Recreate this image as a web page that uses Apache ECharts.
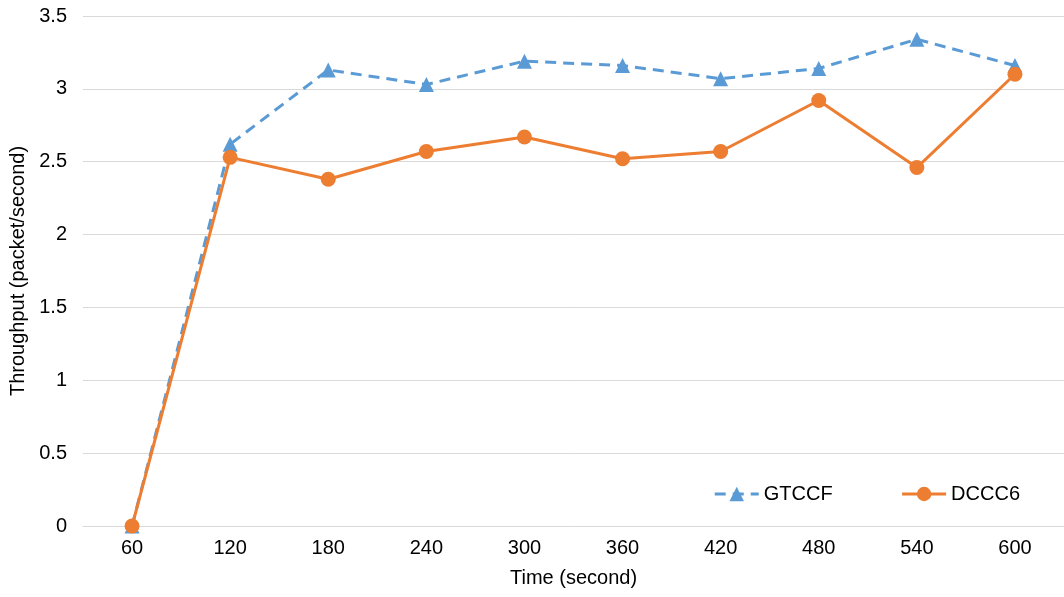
<!DOCTYPE html>
<html><head><meta charset="utf-8">
<script src="https://cdn.jsdelivr.net/npm/echarts@6/dist/echarts.min.js"></script>
<style>html,body{margin:0;padding:0;background:#fff}#c{width:1064px;height:597px}</style>
</head><body><div id="c"></div>
<script>
const categories = ['60','120','180','240','300','360','420','480','540','600'];
const gtccf = [0, 2.62, 3.13, 3.03, 3.19, 3.16, 3.07, 3.14, 3.34, 3.16];
const dccc6 = [0, 2.53, 2.38, 2.57, 2.67, 2.52, 2.57, 2.92, 2.46, 3.10];
const yTicks = {min: 0, max: 3.5, interval: 0.5};

const font = 'Liberation Sans, Arial, sans-serif';
const chart = echarts.init(document.getElementById('c'));
chart.setOption({
  animation: false,
  grid: {left: 83, right: 0, top: 16, bottom: 71},
  legend: {
    right: 39, top: 479, itemWidth: 44, itemHeight: 18, itemGap: 68,
    lineStyle: {width: 3},
    textStyle: {fontFamily: font, fontSize: 20, color: '#000'},
    data: ['GTCCF', 'DCCC6']
  },
  xAxis: {
    type: 'category', data: categories, boundaryGap: true,
    name: 'Time (second)', nameLocation: 'middle', nameGap: 42,
    nameTextStyle: {fontFamily: font, fontSize: 20, color: '#000'},
    axisLine: {show: true, lineStyle: {color: '#d9d9d9', width: 1}},
    axisTick: {show: false},
    axisLabel: {fontFamily: font, fontSize: 20, color: '#000', margin: 12}
  },
  yAxis: {
    type: 'value', min: yTicks.min, max: yTicks.max, interval: yTicks.interval,
    name: 'Throughput (packet/second)', nameLocation: 'middle', nameGap: 50,
    nameTextStyle: {fontFamily: font, fontSize: 20, color: '#000'},
    axisLine: {show: false}, axisTick: {show: false},
    axisLabel: {fontFamily: font, fontSize: 20, color: '#000', margin: 16},
    splitLine: {lineStyle: {color: '#d9d9d9', width: 1}}
  },
  series: [
    {
      name: 'GTCCF', type: 'line', data: gtccf,
      symbol: 'triangle', symbolSize: 15,
      lineStyle: {color: '#5b9bd5', width: 3, type: [11, 7]},
      itemStyle: {color: '#5b9bd5'}
    },
    {
      name: 'DCCC6', type: 'line', data: dccc6,
      symbol: 'circle', symbolSize: 15,
      lineStyle: {color: '#ed7d31', width: 3},
      itemStyle: {color: '#ed7d31'}
    }
  ]
});
</script></body></html>
